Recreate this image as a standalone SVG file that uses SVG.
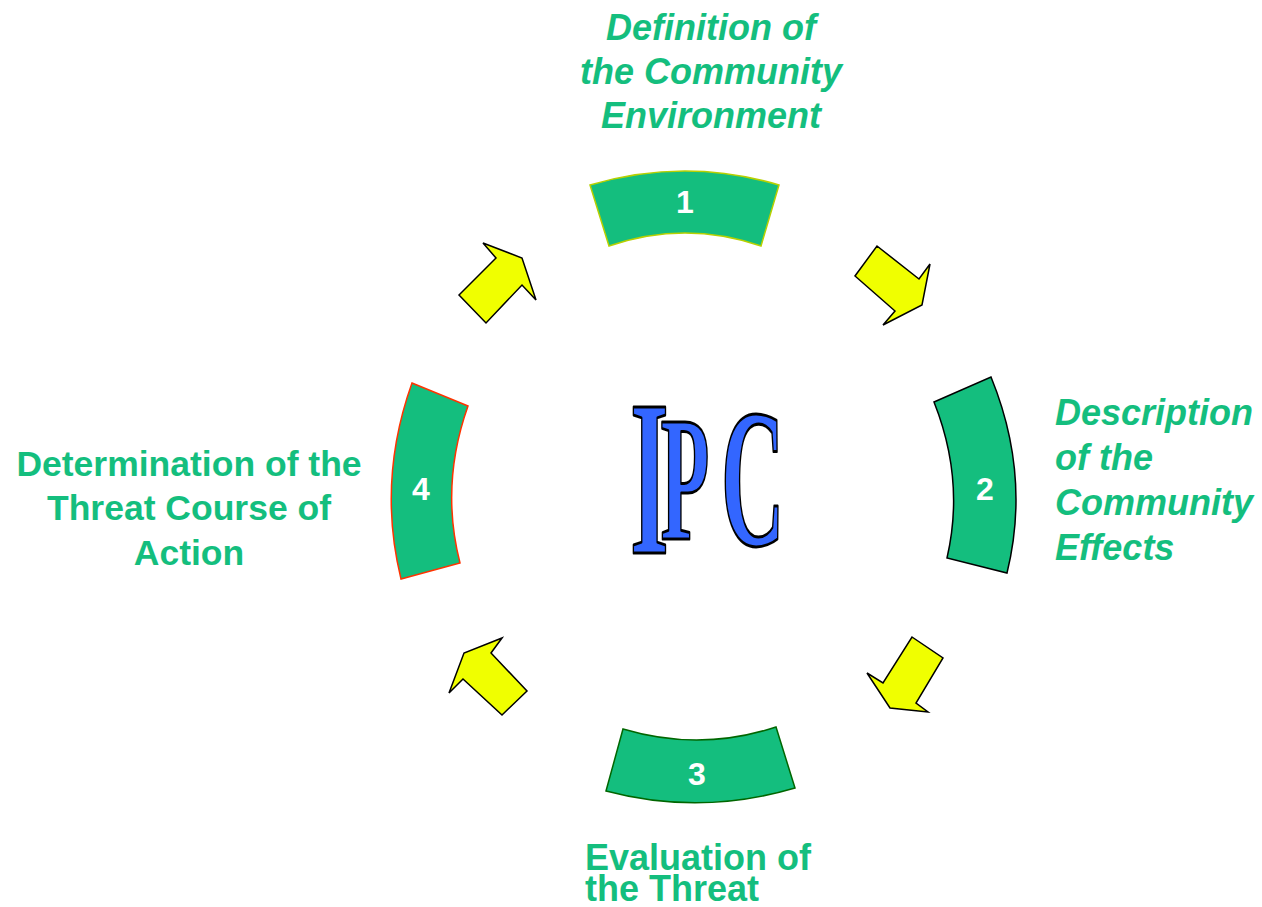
<svg xmlns="http://www.w3.org/2000/svg" width="1262" height="907" viewBox="0 0 1262 907">
<style>
.seg{fill:#14be7e;stroke-width:1.5}
.num{font-family:"Liberation Sans",Arial,sans-serif;font-weight:bold;font-size:32px;fill:#ffffff;text-anchor:middle}
.lbl{font-family:"Liberation Sans",Arial,sans-serif;font-weight:bold;font-size:36px;fill:#14be7e}
.it{font-style:italic}
.arr{fill:#f0ff00;stroke:#000000;stroke-width:1.5;stroke-linejoin:miter}
</style>
<rect width="1262" height="907" fill="#ffffff"/>
<g id="node1">
<path class="seg" stroke="#b8d000" d="M590,185 Q685,157 779,185 L761,246 Q685,220 609,246 Z"/>
<text class="num" x="685" y="213">1</text>
<text class="lbl it" text-anchor="middle"><tspan x="711" y="40">Definition of</tspan><tspan x="711" y="84">the Community</tspan><tspan x="711" y="128">Environment</tspan></text>
</g>
<g id="node2">
<path class="seg" stroke="#000000" d="M934,402 L991,377 Q1031,475 1007,573 L947,558 Q965,480 934,402 Z"/>
<text class="num" x="985" y="500">2</text>
<text class="lbl it"><tspan x="1055" y="425">Description</tspan><tspan x="1055" y="470">of the</tspan><tspan x="1055" y="515">Community</tspan><tspan x="1055" y="560">Effects</tspan></text>
</g>
<g id="node3">
<path class="seg" stroke="#006600" d="M623,729 Q700,752 776,727 L795,788 Q700,816 606,791 Z"/>
<text class="num" x="697" y="785">3</text>
<text class="lbl"><tspan x="585" y="870">Evaluation of</tspan><tspan x="585" y="901">the Threat</tspan></text>
</g>
<g id="node4">
<path class="seg" stroke="#ff3300" d="M412,383 L468,406 Q440,485 460,563 L401,579 Q377,481 412,383 Z"/>
<text class="num" x="421" y="500">4</text>
<text class="lbl" style="font-size:35.5px" text-anchor="middle"><tspan x="189" y="476">Determination of the</tspan><tspan x="189" y="520">Threat Course of</tspan><tspan x="189" y="565">Action</tspan></text>
</g>
<g id="center">
<text transform="translate(630,0) scale(0.45,1)" font-family="'Liberation Serif','Times New Roman',serif" font-weight="bold" fill="#3366ff" stroke="#000000" stroke-width="3" stroke-linejoin="round"><tspan x="0" y="553" font-size="222">I</tspan><tspan x="68" y="539" font-size="178">P</tspan><tspan x="202" y="545" font-size="196">C</tspan></text>
</g>
<g id="connectors">
<polygon class="arr" points="459,295 496,258 483,243 522,258 536,300 522,285 486,323"/>
<polygon class="arr" points="877,246 919,279 930,264 922,305 883,325 895,311 855,276"/>
<polygon class="arr" points="912,637 943,658 916,703 928,712 890,708 867,673 883,683"/>
<polygon class="arr" points="502,638 491,653 527,691 502,715 463,679 449,693 464,653"/>
</g>
</svg>
